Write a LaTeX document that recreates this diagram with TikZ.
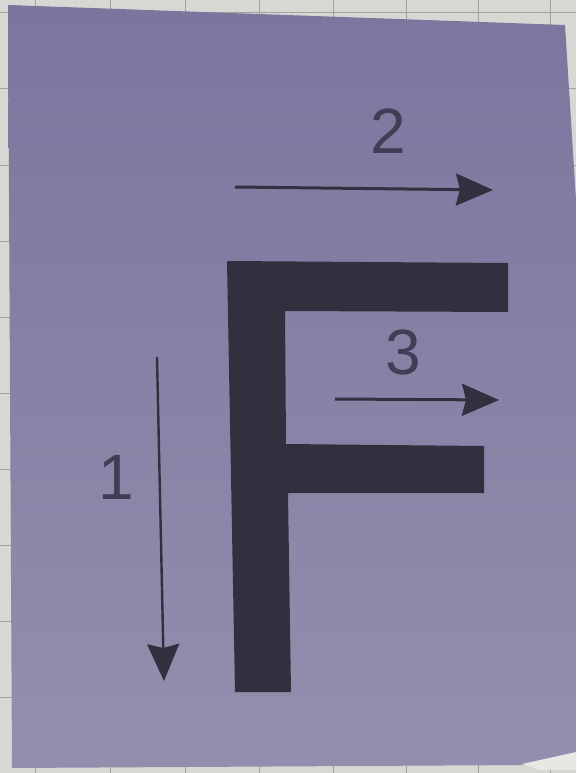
\documentclass[tikz,border=0pt]{standalone}
\usepackage{fontspec}
\setmainfont{Liberation Sans}
\usetikzlibrary{arrows.meta}
\definecolor{gridbg}{RGB}{214,217,211}
\definecolor{gridline}{RGB}{160,164,160}
\definecolor{papertop}{RGB}{124,117,158}
\definecolor{paperbot}{RGB}{148,142,174}
\definecolor{ink}{RGB}{52,47,62}
\definecolor{numink}{RGB}{66,60,84}
\tikzset{
  label num/.style={inner sep=0pt, text=numink, font=\fontsize{64}{64}\selectfont},
  vec arrow/.style={draw=ink, line width=3pt, -{Stealth[length=37pt,width=32pt,inset=4pt]}},
}
\begin{document}
\begin{tikzpicture}[x=1pt,y=-1pt]
\useasboundingbox (0,0) rectangle (576,773);
% grid background
\fill[gridbg] (0,0) rectangle (576,773);
\foreach \gx in {35,110,185,259,333,406,478,550} {\draw[gridline, line width=1pt] (\gx,0) -- (\gx,773);}
\foreach \gy in {13,89,165,241,317,393,469,545,621,697} {\draw[gridline, line width=1pt] (0,\gy) -- (576,\gy);}
% paper
\shade[top color=papertop, bottom color=paperbot]
  (8,5) -- (565,25) -- (576,200) -- (576,758) -- (530,765) -- (12,768) -- cycle;
\fill[gridbg!60!white] (522,764) -- (576,752) -- (576,770) -- (540,770) -- cycle;
% the letter F
\fill[ink] (227,261) -- (508,263) -- (508,312) -- (285,311) -- (286,444)
  -- (484,446) -- (484,493) -- (288,493) -- (291,692) -- (235,692) -- cycle;
% arrows
\coordinate (a1s) at (157,357);
\coordinate (a1e) at (164,681);
\coordinate (a2s) at (235,187);
\coordinate (a2e) at (493,190);
\coordinate (a3s) at (335,399);
\coordinate (a3e) at (499,400);
\draw[vec arrow, line width=2.4pt] (a1s) -- (a1e);
\draw[vec arrow] (a2s) -- (a2e);
\draw[vec arrow] (a3s) -- (a3e);
% labels
\node[label num] (n1) at (116,477) {1};
\node[label num] (n2) at (388,131) {2};
\node[label num] (n3) at (403,352) {3};
\end{tikzpicture}
\end{document}
